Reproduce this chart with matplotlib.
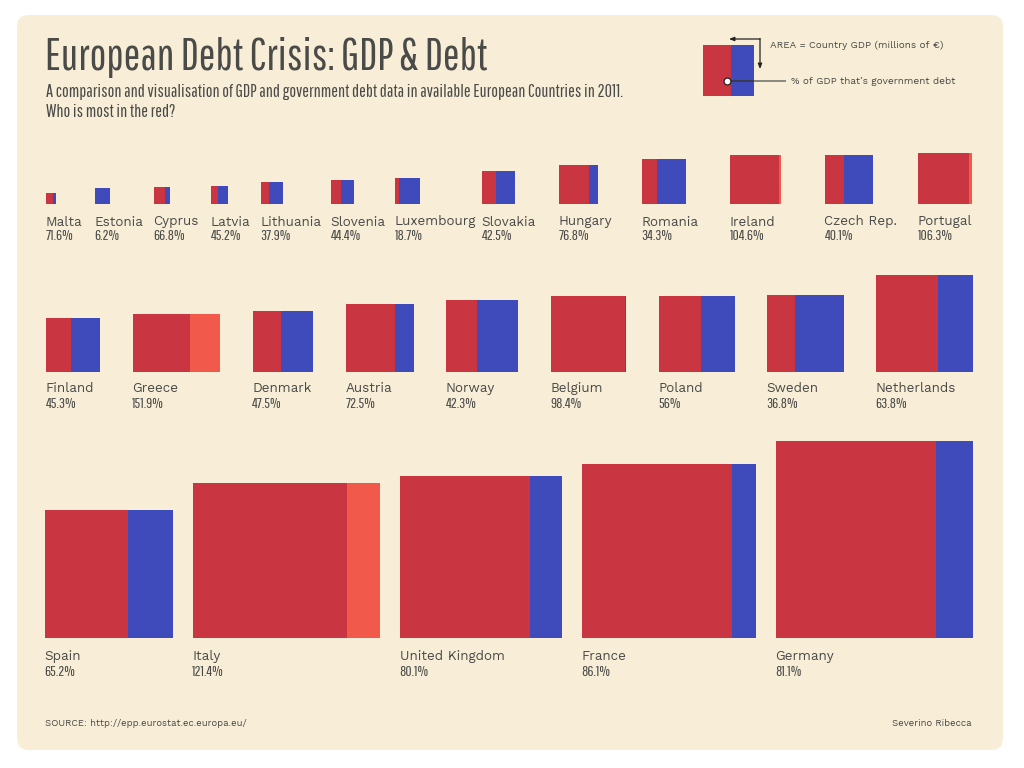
import matplotlib
matplotlib.use('Agg')
import matplotlib.pyplot as plt
from matplotlib.patches import FancyBboxPatch

# Datos (PIB en millones de euros, deuda en % del PIB)
row1_names = ['Malta', 'Estonia', 'Cyprus', 'Latvia', 'Lithuania', 'Slovenia', 'Luxembourg',
              'Slovakia', 'Hungary', 'Romania', 'Ireland', 'Czech Rep.', 'Portugal']
row1_gdp = [7570, 16930, 19100, 20700, 32900, 37100, 44700, 72900, 103200, 132100, 160700, 158800, 174000]
row1_debt = [71.6, 6.2, 66.8, 45.2, 37.9, 44.4, 18.7, 42.5, 76.8, 34.3, 104.6, 40.1, 106.3]

row2_names = ['Finland', 'Greece', 'Denmark', 'Austria', 'Norway', 'Belgium', 'Poland', 'Sweden', 'Netherlands']
row2_gdp = [196400, 220200, 246100, 305800, 347600, 382000, 382000, 392100, 622200]
row2_debt = [45.3, 151.9, 47.5, 72.5, 42.3, 98.4, 56, 36.8, 63.8]

row3_names = ['Spain', 'Italy', 'United Kingdom', 'France', 'Germany']
row3_gdp = [1083500, 1588800, 1746000, 2002000, 2592600]
row3_debt = [65.2, 121.4, 80.1, 86.1, 81.1]

legend_gdp = 172000
legend_debt = 56

RED = '#C93541'
BLUE = '#3F4ABB'
ORANGE = '#F15A4A'
CREAM = '#F8EED7'
TEXT = '#4A4A48'
NARROW = ['Pathway Gothic One', 'Oswald', 'Roboto', 'DejaVu Sans']
WIDE = ['Work Sans', 'Inter', 'DejaVu Sans']

# Ancho de cada hueco de la primera fila (depende de la etiqueta)
row1_slots = [49, 59, 57, 50, 70, 64, 87, 77, 83, 88, 95, 93, 60]
LEFT = 45.5
RIGHT = 973
PX_PER_SQRT_GDP = 197.5 / 2592600 ** 0.5

fig = plt.figure(figsize=(10.24, 7.68), dpi=100, facecolor='white')
ax = fig.add_axes([0, 0, 1, 1])
ax.set_xlim(0, 1024)
ax.set_ylim(768, 0)
ax.axis('off')

ax.add_patch(FancyBboxPatch((17, 15), 986, 735, boxstyle='round,pad=0,rounding_size=12',
                            mutation_aspect=1, fc=CREAM, ec='none', lw=0, zorder=0))


def sideOf(gdp):
    return PX_PER_SQRT_GDP * gdp ** 0.5


def drawBox(x, base, gdp, debt):
    side = sideOf(gdp)
    red = side * min(debt, 100) / 100
    ax.bar(x, -side, width=red, bottom=base, align='edge', color=RED, lw=0, zorder=2)
    if debt > 100:
        ax.bar(x + side, -side, width=side * (debt - 100) / 100, bottom=base, align='edge',
               color=ORANGE, lw=0, zorder=2)
    else:
        ax.bar(x + red, -side, width=side - red, bottom=base, align='edge', color=BLUE, lw=0, zorder=2)
    return side


def drawRow(names, gdp, debt, lefts, base, name_y, pct_y, label_dx):
    for name, g, d, x in zip(names, gdp, debt, lefts):
        drawBox(x, base, g, d)
        ax.text(x + label_dx, name_y, name, family=WIDE, fontsize=9.7, color=TEXT, va='baseline', ha='left')
        ax.text(x + label_dx, pct_y, f'{d:g}%', family=NARROW, fontsize=11, color=TEXT, va='baseline', ha='left')


def justified(gdp, debt, left):
    # Filas 2 y 3: cajas repartidas con la misma separacion
    widths = [sideOf(g) * max(1, d / 100) for g, d in zip(gdp, debt)]
    gap = (RIGHT - left - sum(widths)) / (len(widths) - 1)
    lefts = []
    x = left
    for w in widths:
        lefts.append(x)
        x += w + gap
    return lefts


row1_lefts = []
x = LEFT
for slot in row1_slots:
    row1_lefts.append(x)
    x += slot

drawRow(row1_names, row1_gdp, row1_debt, row1_lefts, 204, 225.5, 240, 0)
drawRow(row2_names, row2_gdp, row2_debt, justified(row2_gdp, row2_debt, 46), 372, 392, 408, -0.5)
drawRow(row3_names, row3_gdp, row3_debt, justified(row3_gdp, row3_debt, 45), 638, 660, 676, -0.5)

# Titulo
ax.text(45, 70, 'European Debt Crisis: GDP & Debt', family=NARROW, fontsize=32, color=TEXT, va='baseline')
ax.text(45.5, 97, 'A comparison and visualisation of GDP and government debt data in available European Countries in 2011.',
        family=NARROW, fontsize=13, color=TEXT, va='baseline')
ax.text(45.5, 117, 'Who is most in the red?', family=NARROW, fontsize=13, color=TEXT, va='baseline')

# Leyenda
drawBox(703, 96, legend_gdp, legend_debt)
ax.annotate('', xy=(729, 39), xytext=(760, 39),
            arrowprops=dict(arrowstyle='-|>,head_width=0.12,head_length=0.3', color='#222222', lw=0.9,
                            shrinkA=0, shrinkB=0))
ax.annotate('', xy=(760, 69), xytext=(760, 38.5),
            arrowprops=dict(arrowstyle='-|>,head_width=0.12,head_length=0.3', color='#222222', lw=0.9,
                            shrinkA=0, shrinkB=0))
ax.plot([727, 786], [81, 81], color='#808078', lw=1.3, zorder=3, solid_capstyle='butt')
ax.plot([727, 754], [81, 81], color='#33334A', lw=1.3, zorder=4, solid_capstyle='butt')
ax.plot([727], [81], 'o', ms=5, mfc='white', mec='#222222', mew=0.9, zorder=5)
ax.text(770, 48, 'AREA = Country GDP (millions of €)', family=WIDE, fontsize=7.2, color=TEXT, va='baseline')
ax.text(791, 84, "% of GDP that\u2019s government debt", family=WIDE, fontsize=7.2, color=TEXT, va='baseline')

# Pie
ax.text(45, 726, 'SOURCE: http://epp.eurostat.ec.europa.eu/', family=WIDE, fontsize=6.9, color=TEXT, va='baseline')
ax.text(972, 726, 'Severino Ribecca', family=WIDE, fontsize=6.9, color=TEXT, va='baseline', ha='right')

plt.savefig('out.png', dpi=100)
